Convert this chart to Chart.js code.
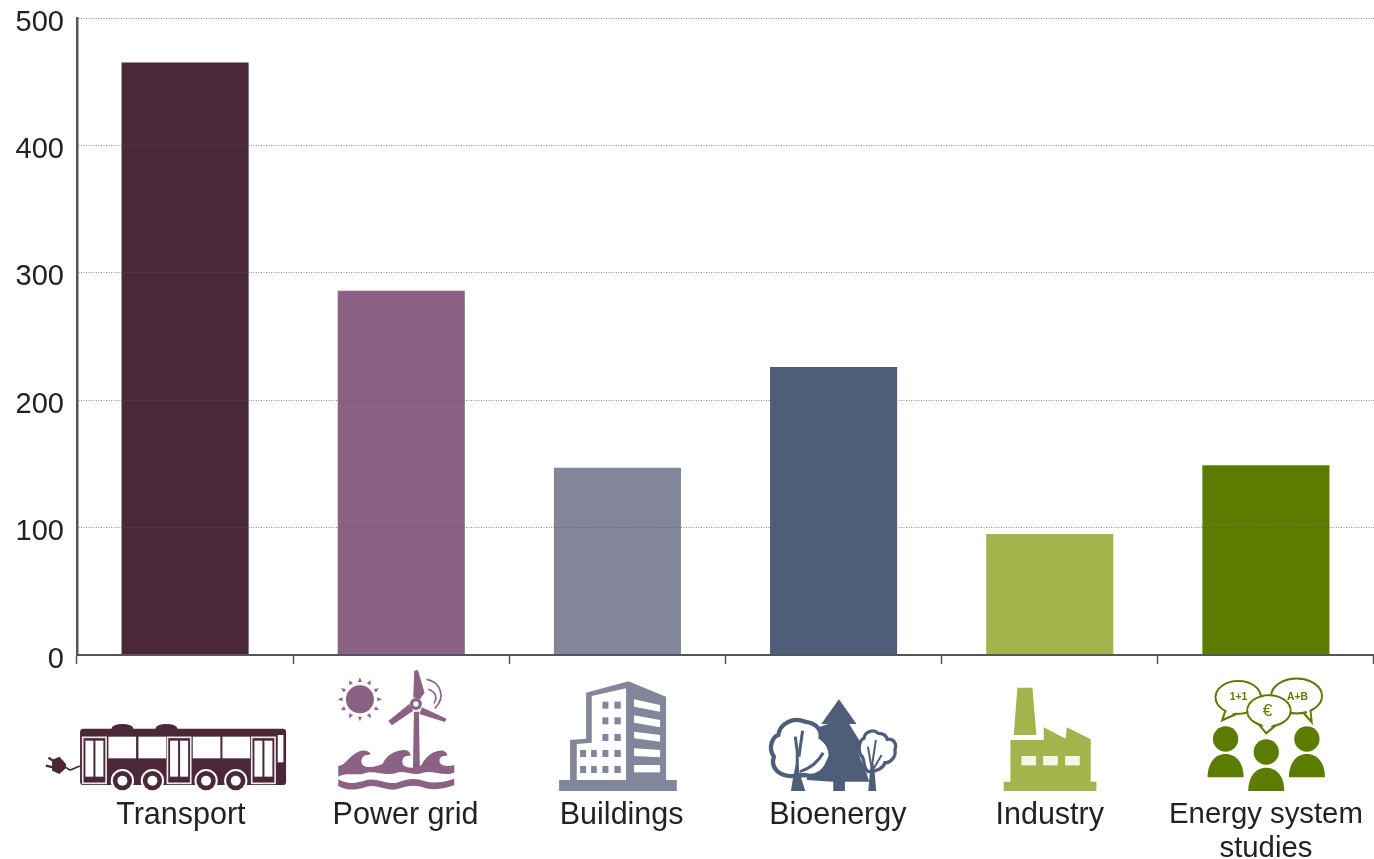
<!DOCTYPE html>
<html>
<head>
<meta charset="utf-8">
<title>Projects by field</title>
<script src="https://cdn.jsdelivr.net/npm/chart.js@4/dist/chart.umd.min.js"></script>
<style>
	html, body { margin: 0; padding: 0; background: #fff; }
	canvas { display: block; }
</style>
</head>
<body>
<canvas id="barChart" width="1374" height="859"></canvas>
<script>
const categories = ['Transport', 'Power grid', 'Buildings', 'Bioenergy', 'Industry', ['Energy system', 'studies']];
const projectCounts = [465, 286, 147, 226, 95, 149];
const yTicks = [0, 100, 200, 300, 400, 500];
const barColors = ['#4a2838', '#8b6283', '#83859b', '#4e5e78', '#a4b34c', '#5c7c00'];

// icon artwork is written on a 3x grid, so every path gets scaled down by 3
function fillPath(c, d, rule) {
	c.fill(new Path2D(d), rule || 'nonzero');
}

function circle(c, x, y, r, color) {
	c.fillStyle = color;
	c.beginPath();
	c.arc(x, y, r, 0, Math.PI * 2);
	c.fill();
}

function rect(c, x, y, w, h, color) {
	c.fillStyle = color;
	c.fillRect(x, y, w, h);
}

function drawBus(c, color) {
	c.fillStyle = color;
	c.beginPath();
	c.roundRect(240, 266, 618, 169, 10);
	c.fill();
	c.beginPath();
	c.ellipse(367, 266, 33, 14, 0, 0, Math.PI * 2);
	c.ellipse(499, 266, 33, 14, 0, 0, Math.PI * 2);
	c.fill();
	// plug and cable
	fillPath(c, 'M156 360 L178 350 L198 372 L198 384 L178 402 L156 392 Z');
	c.strokeStyle = color;
	c.lineWidth = 7;
	c.stroke(new Path2D('M145 353 L165 366'));
	c.stroke(new Path2D('M137 377 L160 382'));
	c.lineWidth = 5;
	c.stroke(new Path2D('M198 382 C212 400 222 380 242 378'));
	// side windows
	[325, 415, 578, 667].forEach(x => rect(c, x, 290, 83, 65, '#fff'));
	rect(c, 833, 285, 17, 82, '#fff');
	// doors
	[248, 502, 755].forEach(x => {
		c.strokeStyle = '#efe6ec';
		c.lineWidth = 5;
		c.strokeRect(x, 292, 70, 138);
		rect(c, x + 8, 302, 24, 108, '#fff');
		rect(c, x + 38, 302, 24, 108, '#fff');
	});
	// wheels
	[367, 457, 618, 707].forEach(x => {
		circle(c, x, 422, 35, '#fff');
		circle(c, x, 422, 29, color);
		circle(c, x, 422, 15, '#fff');
	});
}

function drawPowerGrid(c, color) {
	circle(c, 1080, 178, 42, color);
	c.fillStyle = color;
	for (let i = 0; i < 12; i++) {
		c.save();
		c.translate(1080, 178);
		c.rotate(i * Math.PI / 6);
		c.beginPath();
		c.moveTo(-6, -52);
		c.lineTo(6, -52);
		c.lineTo(0, -66);
		c.fill();
		c.restore();
	}
	fillPath(c, 'M1242 215 L1257 215 L1260 395 L1239 395 Z');
	fillPath(c, 'M1243 92 L1254 90 L1274 158 L1260 178 L1240 172 Z');
	fillPath(c, 'M1165 243 L1228 192 L1240 212 L1176 256 Z');
	fillPath(c, 'M1266 202 L1340 236 L1335 246 L1258 222 Z');
	circle(c, 1248, 192, 18, color);
	circle(c, 1248, 192, 8, '#fff');
	c.strokeStyle = color;
	c.lineWidth = 5;
	c.stroke(new Path2D('M1280 118 C1320 125 1340 170 1305 205'));
	c.stroke(new Path2D('M1285 148 C1305 155 1315 170 1302 190'));
	// waves
	c.fillStyle = color;
	fillPath(c, 'M1015 410 L1015 378 C1040 375 1050 340 1085 332 C1100 330 1110 335 1112 345 C1095 342 1082 352 1085 368 C1090 385 1115 385 1148 372 C1160 345 1185 330 1215 330 C1228 332 1232 340 1232 348 C1215 345 1205 355 1208 370 C1212 385 1240 388 1265 375 C1280 345 1305 330 1330 332 C1338 335 1342 340 1342 348 C1325 345 1315 355 1320 368 C1325 378 1345 380 1363 375 L1363 398 C1330 410 1300 390 1270 398 C1240 410 1215 390 1189 398 C1160 410 1130 392 1100 398 C1070 410 1040 395 1015 410 Z');
	fillPath(c, 'M1015 418 C1045 434 1070 430 1100 420 C1130 412 1160 434 1190 428 C1220 418 1245 412 1275 424 C1305 432 1335 426 1363 416 L1363 436 C1335 446 1305 452 1275 444 C1245 432 1220 438 1190 448 C1160 454 1130 432 1100 440 C1070 450 1045 454 1015 438 Z');
}

function drawBuildings(c, color) {
	c.fillStyle = color;
	c.fillRect(177, 420, 353, 33);
	fillPath(c, 'M258 158 L385 124 L498 170 L498 422 L210 422 L210 300 L258 296 Z');
	c.fillStyle = '#fff';
	fillPath(c, 'M275 168 L378 145 L378 420 L230 420 L230 312 L275 308 Z');
	fillPath(c, 'M402 178 L480 195 L480 215 L402 200 Z');
	fillPath(c, 'M402 226 L480 240 L480 262 L402 248 Z');
	fillPath(c, 'M402 275 L480 285 L480 305 L402 295 Z');
	fillPath(c, 'M402 325 L480 330 L480 352 L402 348 Z');
	fillPath(c, 'M402 375 L480 375 L480 397 L402 397 Z');
	[185, 232, 282, 330, 378].forEach(y => {
		rect(c, 307, y, 18, 21, color);
		rect(c, 343, y, 19, 21, color);
	});
	[330, 378].forEach(y => {
		rect(c, 240, y, 18, 21, color);
		rect(c, 273, y, 17, 21, color);
	});
}

function drawBioenergy(c, color) {
	c.fillStyle = color;
	fillPath(c, 'M1017 178 L1070 252 L1048 252 L1090 320 L1075 340 L1100 400 L1108 425 L1035 425 L1035 453 L1000 453 L1000 425 L920 420 L960 260 L985 252 L964 252 Z');
	c.strokeStyle = color;
	// big tree on the left
	c.lineWidth = 13;
	const bigCrown = new Path2D('M880 408 C840 410 810 385 822 350 C802 320 820 290 835 285 C840 250 880 230 915 245 C950 250 965 270 962 292 C990 310 1000 345 985 365 C975 395 945 415 915 405 Z');
	c.fillStyle = '#fff';
	c.fill(bigCrown);
	c.stroke(bigCrown);
	c.fillStyle = color;
	fillPath(c, 'M873 453 L880 410 L892 350 L898 395 L916 453 Z');
	c.lineWidth = 9;
	c.stroke(new Path2D('M892 400 L892 335 L886 290'));
	c.stroke(new Path2D('M897 350 L908 272'));
	c.stroke(new Path2D('M900 395 C930 385 955 365 970 338'));
	// small tree on the right
	c.lineWidth = 10;
	const smallCrown = new Path2D('M1105 395 C1085 380 1098 355 1082 345 C1072 325 1080 300 1092 295 C1095 275 1120 265 1135 280 C1155 280 1160 290 1162 298 C1180 295 1192 310 1185 330 C1190 350 1170 370 1155 368 C1150 385 1130 395 1105 395 Z');
	c.fillStyle = '#fff';
	c.fill(smallCrown);
	c.stroke(smallCrown);
	c.fillStyle = color;
	fillPath(c, 'M1105 453 L1110 395 L1118 350 L1124 395 L1129 453 Z');
	c.lineWidth = 6;
	c.stroke(new Path2D('M1116 390 L1104 320'));
	c.stroke(new Path2D('M1118 365 L1128 300'));
	c.stroke(new Path2D('M1122 385 L1145 345'));
}

function drawIndustry(c, color) {
	c.fillStyle = color;
	fillPath(c, 'M233 143 L278 143 L290 285 L222 285 Z');
	fillPath(c, 'M212 300 L312 300 L312 262 L378 296 L381 262 L453 298 L453 425 L470 425 L470 453 L192 453 L192 425 L212 425 Z');
	[245, 310, 376].forEach(x => rect(c, x, 348, 44, 28, '#f5f6e8'));
}

// outline of ellipse and tail first, then the white inside wipes out the seam
function speechBubble(c, x, y, rx, ry, tail, tailInside, color) {
	c.strokeStyle = color;
	c.lineWidth = 6.5;
	c.stroke(new Path2D(tail));
	c.beginPath();
	c.ellipse(x, y, rx, ry, 0, 0, Math.PI * 2);
	c.stroke();
	c.fillStyle = '#fff';
	c.beginPath();
	c.ellipse(x, y, rx - 3, ry - 3, 0, 0, Math.PI * 2);
	c.fill();
	fillPath(c, tailInside);
}

function drawEnergyStudies(c, color) {
	speechBubble(c, 896, 172, 68, 49, 'M858 210 L848 241 L892 221', 'M864 205 L855 231 L890 216 L885 205 Z', color);
	speechBubble(c, 1071, 168, 76, 52, 'M1090 217 L1116 246 L1112 208', 'M1095 205 L1113 236 L1108 200 Z', color);
	c.fillStyle = color;
	c.font = 'bold 31px "Liberation Sans Narrow", "Liberation Sans"';
	c.textAlign = 'center';
	c.textBaseline = 'middle';
	c.fillText('1+1', 897, 171);
	c.fillText('A+B', 1074, 171);
	speechBubble(c, 988, 212, 65, 46, 'M955 250 L980 280 L1018 248', 'M962 245 L980 272 L1010 245 Z', color);
	c.fillStyle = color;
	c.font = '52px "Liberation Sans"';
	c.fillText('€', 984, 214);
	[[858, 297, 412], [1102, 297, 412], [980, 336, 453]].forEach(([x, headY, footY]) => {
		circle(c, x, headY, 38, color);
		c.fillStyle = color;
		c.beginPath();
		c.moveTo(x - 54, footY);
		c.bezierCurveTo(x - 54, footY - 42, x - 33, footY - 70, x, footY - 70);
		c.bezierCurveTo(x + 33, footY - 70, x + 54, footY - 42, x + 54, footY);
		c.closePath();
		c.fill();
	});
}

// origin of each icon on its 3x grid, lined up with the middle of the category
const icons = [
	{ draw: drawBus, ox: 555 },
	{ draw: drawPowerGrid, ox: 1204 },
	{ draw: drawBuildings, ox: 352 },
	{ draw: drawBioenergy, ox: 1001 },
	{ draw: drawIndustry, ox: 330 },
	{ draw: drawEnergyStudies, ox: 979 }
];

const iconPlugin = {
	id: 'categoryIcons',
	afterDraw(chart) {
		const c = chart.ctx;
		const xScale = chart.scales.x;
		const base = chart.scales.y.getPixelForValue(0);
		icons.forEach((icon, i) => {
			c.save();
			c.translate(xScale.getPixelForValue(i), base);
			c.scale(1 / 3, 1 / 3);
			c.translate(-icon.ox, -45);
			icon.draw(c, barColors[i]);
			c.restore();
		});
	}
};

const chart = new Chart(document.getElementById('barChart').getContext('2d'), {
	type: 'bar',
	data: {
		labels: categories,
		datasets: [{
			data: projectCounts,
			backgroundColor: barColors,
			barPercentage: 1,
			categoryPercentage: 0.588
		}]
	},
	options: {
		responsive: false,
		animation: false,
		layout: { padding: { top: 18, right: 0, left: 0, bottom: 0 } },
		plugins: {
			legend: { display: false },
			tooltip: { enabled: false }
		},
		scales: {
			x: {
				afterFit(scale) {
					scale.height = 204;
					// the long last label must not shrink the plot
					scale.paddingLeft = 0;
					scale.paddingRight = 0;
				},
				border: { color: '#555', width: 2, z: 1 },
				grid: {
					drawOnChartArea: false,
					color: '#555',
					tickLength: 9,
					tickWidth: 1.5
				},
				ticks: {
					color: '#222',
					padding: 134,
					autoSkip: false,
					maxRotation: 0,
					// a space on one side nudges the centred label off the bar centre
					callback(value, i) {
						const label = this.getLabelForValue(value);
						if (i === 0) return label + ' ';
						if (i >= 1 && i <= 3) return ' ' + label;
						return label;
					},
					font: c => ({
						family: '"Liberation Sans", Arial, sans-serif',
						size: c.index === 5 ? 29.3 : 30.5,
						lineHeight: 34 / 29.3
					})
				}
			},
			y: {
				min: 0,
				max: 500,
				afterFit(scale) {
					scale.width = 77;
					scale.paddingTop = 0;
					scale.paddingBottom = 0;
				},
				afterBuildTicks(scale) { scale.ticks = yTicks.map(value => ({ value })); },
				// z has to follow the grid, the border position is worked out while the grid draws
				border: { color: '#555', width: 2.5, dash: [1, 1.5], z: 1 },
				grid: {
					color: 'rgba(90,90,90,0.7)',
					lineWidth: 1,
					z: 1,
					drawTicks: false
				},
				ticks: {
					color: '#222',
					padding: 13,
					// an empty first line pushes the number just below its gridline
					callback: value => ['', String(value)],
					font: { family: '"Liberation Sans", Arial, sans-serif', size: 29, lineHeight: 9 / 29 }
				}
			}
		}
	},
	plugins: [iconPlugin]
});
</script>
</body>
</html>
